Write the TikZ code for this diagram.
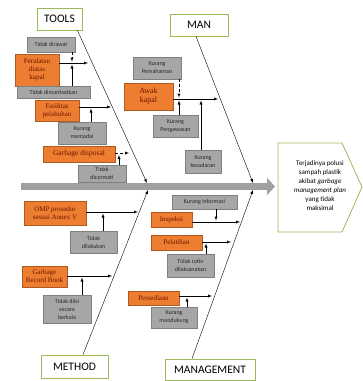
\documentclass[tikz,border=0pt]{standalone}
\usepackage{fontspec}
\setmainfont{Liberation Serif}
\newfontfamily\calfont{Carlito}
\usetikzlibrary{arrows,arrows.meta}

\definecolor{catgreen}{RGB}{155,187,89}
\definecolor{orfill}{RGB}{237,125,49}
\definecolor{orline}{RGB}{174,90,33}
\definecolor{ortext}{RGB}{110,20,0}
\definecolor{gyfill}{RGB}{166,166,166}
\definecolor{gyline}{RGB}{127,127,127}
\definecolor{gytext}{RGB}{40,40,40}
\definecolor{spinegray}{RGB}{160,160,160}

\begin{document}
\begin{tikzpicture}[x=1pt,y=-1pt,
  cat/.style={draw=catgreen,line width=0.8pt,fill=white,inner sep=0pt,font=\calfont\fontsize{11.5}{12}\selectfont},
  cause/.style={draw=orline,fill=orfill,text=ortext,inner sep=0pt,align=center,font=\fontsize{7}{8}\selectfont},
  sub/.style={draw=gyline,fill=gyfill,text=gytext,inner sep=0pt,align=center,font=\calfont\fontsize{6}{8}\selectfont}]

\useasboundingbox (0,0) rectangle (363,381);

% categories
\node[cat,minimum width=45pt,minimum height=22pt] (TL) at (59.5,19) {TOOLS};
\node[cat,minimum width=58pt,minimum height=22pt] (MN) at (199,25) {MAN};
\node[cat,minimum width=67pt,minimum height=23pt] (MT) at (74.5,366.5) {METHOD};
\node[cat,minimum width=90pt,minimum height=21pt] (MG) at (210,369.5) {MANAGEMENT};

% spine and effect
\coordinate (sp0) at (21,186.5);
\coordinate (sp1) at (275,186.5);
\draw[line width=7pt,spinegray,-{Triangle[length=8pt,width=17pt]}] (sp0) -- (sp1);
\draw[catgreen,line width=0.8pt,fill=white] (278,143) -- (342,143) -- (362,187) -- (342,232) -- (278,232) -- cycle;
\node[font=\calfont\fontsize{7}{9}\selectfont,align=center] (E) at (320,186) {Terjadinya polusi\\sampah plastik\\akibat \textit{garbage}\\\textit{management plan}\\yang tidak\\maksimal};

% bones
\coordinate (b1) at (147,183);
\coordinate (b2) at (253,183);
\coordinate (b3) at (148,190);
\coordinate (b4) at (253,190);
\path [-latex] ([xshift=-5pt]TL.south east) edge (b1);
\path [-latex] ([xshift=-3pt]MN.south) edge (b2);
\path [-latex] ([xshift=8.5pt]MT.north) edge (b3);
\path [-latex] ([xshift=-18pt]MG.north) edge (b4);

% tools
\node[sub,minimum width=48pt,minimum height=15pt] (s1) at (51,44.5) {Tidak dirawat};
\node[cause,minimum width=44pt,minimum height=32pt] (P1) at (37,70) {Peralatan\\diatas\\kapal};
\node[sub,minimum width=73pt,minimum height=12pt] (s2) at (53.5,92) {Tidak dimanfaatkan};
\node[cause,minimum width=44pt,minimum height=21pt] (P2) at (57,110.5) {Fasilitas\\pelabuhan};
\node[sub,minimum width=48pt,minimum height=22pt] (s3) at (82,133) {Kurang\\memadai};
\node[cause,minimum width=72pt,minimum height=16pt,font=\fontsize{7.5}{8}\selectfont] (P3) at (79,154) {Garbage disposal};
\node[sub,minimum width=48pt,minimum height=17pt] (s4) at (102,173.5) {Tidak\\dicermati};

\coordinate (j1) at (88,63);
\coordinate (k1) at (72,61.5);
\coordinate (k2) at (72,64.5);
\coordinate (j2) at (111,107);
\coordinate (k3) at (91,108.5);
\coordinate (j3) at (129,153);
\coordinate (k4) at (119,155);
\path [-latex] (P1.east |- j1) edge (j1);
\path [-latex,densely dashed] (s1.south -| k1) edge (k1);
\path [-latex] (s2.north -| k2) edge (k2);
\path [-latex] (P2.east |- j2) edge (j2);
\path [-latex] (s3.north -| k3) edge (k3);
\path [-latex,densely dashed] (P3.east |- j3) edge (j3);
\path [-latex] (s4.north -| k4) edge (k4);

% man
\node[sub,minimum width=48pt,minimum height=22pt] (s5) at (157,68) {Kurang\\Pemahaman};
\node[cause,minimum width=49pt,minimum height=27pt,font=\fontsize{8}{9}\selectfont] (A1) at (148.5,96.5) {Awak\\kapal};
\node[sub,minimum width=45pt,minimum height=22pt] (s6) at (175.5,126) {Kurang\\Pengawasan};
\node[sub,minimum width=36pt,minimum height=23pt] (s7) at (203,161.5) {Kurang\\kesadaran};

\coordinate (j4) at (218,99);
\coordinate (k5) at (179,97.5);
\coordinate (k6) at (179,100.5);
\coordinate (k7) at (201,100.5);
\path [-latex] (A1.east |- j4) edge (j4);
\path [-latex,densely dashed] (s5.south -| k5) edge (k5);
\path [-latex] (s6.north -| k6) edge (k6);
\path [-latex] (s7.north -| k7) edge (k7);

% method
\node[cause,minimum width=62pt,minimum height=24pt] (O1) at (55,213) {OMP prosedur\\sesuai Annex V};
\node[sub,minimum width=47pt,minimum height=22pt] (s8) at (93.5,242) {Tidak\\dilakukan};
\node[cause,minimum width=45pt,minimum height=21pt] (R1) at (44.5,276.5) {Garbage\\Record Book};
\node[sub,minimum width=48pt,minimum height=28pt] (s9) at (67,309) {Tidak diisi\\secara\\berkala};

\coordinate (j5) at (138,212);
\coordinate (k8) at (103,213.5);
\coordinate (j6) at (112,276);
\coordinate (k9) at (82,277.5);
\path [-latex] (O1.east |- j5) edge (j5);
\path [-latex] (s8.north -| k8) edge (k8);
\path [-latex] (R1.east |- j6) edge (j6);
\path [-latex] (s9.north -| k9) edge (k9);

% management
\node[sub,minimum width=65pt,minimum height=14pt] (s10) at (204.5,202) {Kurang informasi};
\node[cause,minimum width=41pt,minimum height=15pt] (I1) at (171.5,219.5) {Inspeksi};
\node[cause,minimum width=51pt,minimum height=15pt] (L1) at (176.5,242.5) {Pelatihan};
\node[sub,minimum width=47pt,minimum height=23pt] (s11) at (190.5,265.5) {Tidak rutin\\dilaksanakan};
\node[cause,minimum width=51pt,minimum height=14pt] (Q1) at (153.5,298) {Persediaan};
\node[sub,minimum width=46pt,minimum height=21pt] (s12) at (174,317.5) {Kurang\\mendukung};

\coordinate (j7) at (240,222);
\coordinate (k10) at (216,220.5);
\coordinate (j8) at (231,242);
\coordinate (k11) at (206,243.5);
\coordinate (j9) at (212,296);
\coordinate (k12) at (187,297.5);
\path [-latex] (I1.east |- j7) edge (j7);
\path [-latex] (s10.south -| k10) edge (k10);
\path [-latex] (L1.east |- j8) edge (j8);
\path [-latex] (s11.north -| k11) edge (k11);
\path [-latex] (Q1.east |- j9) edge (j9);
\path [-latex] (s12.north -| k12) edge (k12);
\end{tikzpicture}
\end{document}
